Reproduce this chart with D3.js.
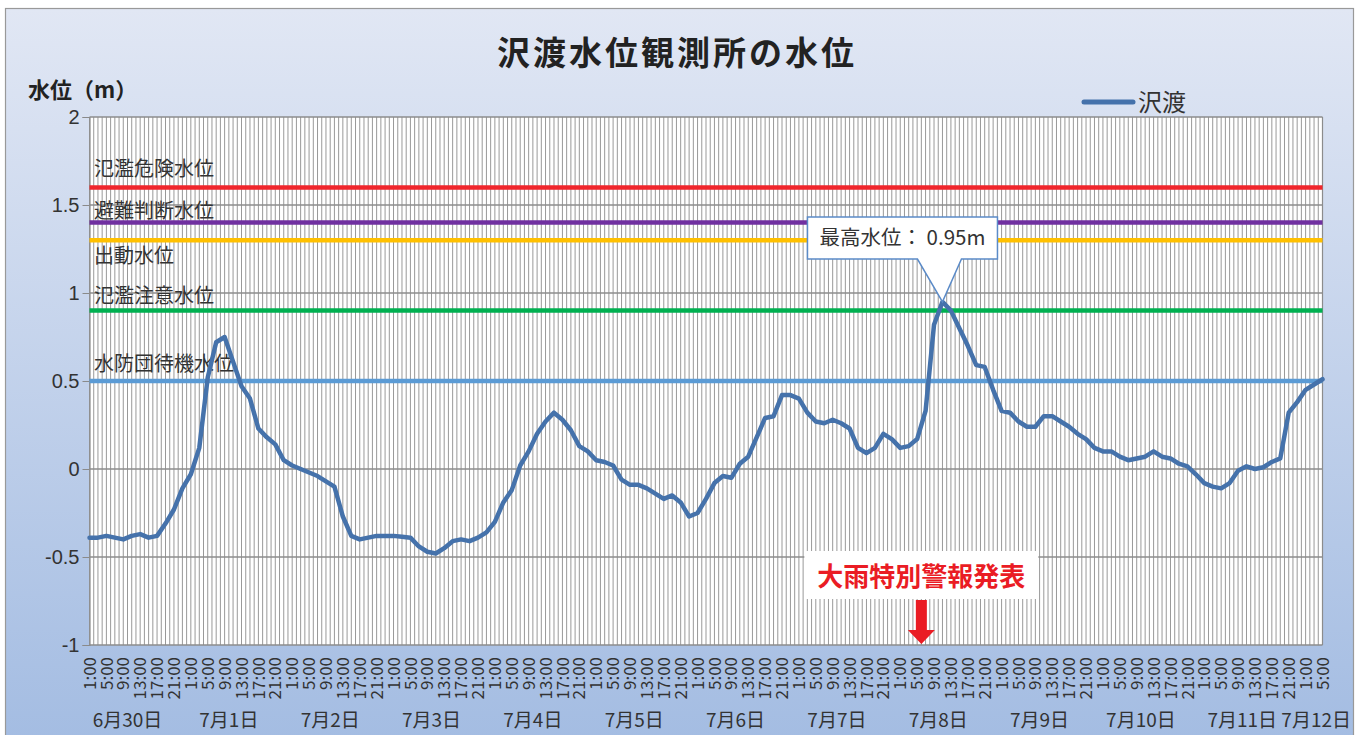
<!DOCTYPE html>
<html>
<head>
<meta charset="utf-8">
<script src="https://cdn.jsdelivr.net/npm/d3@7"></script>
<style>
  body { margin: 0; background: #fff; }
  text { font-family: "Noto Sans CJK JP", "Noto Sans", sans-serif; fill: #333; }
</style>
</head>
<body>
<svg width="1367" height="735"></svg>
<script>
// category axis: hourly, first day starts at 1:00, last day ends at 5:00
const days = ['6月30日', '7月1日', '7月2日', '7月3日', '7月4日', '7月5日', '7月6日',
              '7月7日', '7月8日', '7月9日', '7月10日', '7月11日', '7月12日'];
const firstHour = 1, lastHour = 5;
const tickHours = [1, 5, 9, 13, 17, 21];
const yTicks = [-1, -0.5, 0, 0.5, 1, 1.5, 2];

// 沢渡 water level (m), read every 2 hours from 6/30 1:00
const level = [
  -0.39, -0.39, -0.38, -0.39, -0.40, -0.38, -0.37, -0.39, -0.38, -0.31, -0.23, -0.11,
  -0.03, 0.12, 0.52, 0.72, 0.75, 0.61, 0.47, 0.40, 0.23, 0.18, 0.14, 0.05,
  0.02, 0.00, -0.02, -0.04, -0.07, -0.10, -0.27, -0.38, -0.40, -0.39, -0.38, -0.38,
  -0.38, -0.385, -0.39, -0.44, -0.47, -0.48, -0.45, -0.41, -0.40, -0.41, -0.39, -0.36,
  -0.30, -0.19, -0.12, 0.02, 0.10, 0.20, 0.27, 0.32, 0.28, 0.22, 0.13, 0.10,
  0.05, 0.04, 0.02, -0.06, -0.09, -0.09, -0.11, -0.14, -0.17, -0.15, -0.19, -0.27,
  -0.25, -0.17, -0.08, -0.04, -0.05, 0.03, 0.07, 0.18, 0.29, 0.30, 0.42, 0.42,
  0.40, 0.32, 0.27, 0.26, 0.28, 0.26, 0.23, 0.12, 0.09, 0.12, 0.20, 0.17,
  0.12, 0.13, 0.17, 0.33, 0.82, 0.95, 0.90, 0.80, 0.70, 0.59, 0.58, 0.45,
  0.33, 0.32, 0.27, 0.24, 0.24, 0.30, 0.30, 0.27, 0.24, 0.20, 0.17, 0.12,
  0.10, 0.10, 0.07, 0.05, 0.06, 0.07, 0.10, 0.07, 0.06, 0.03, 0.015, -0.03,
  -0.08, -0.10, -0.11, -0.08, -0.01, 0.015, 0.00, 0.01, 0.04, 0.06, 0.32, 0.38,
  0.45, 0.48, 0.51
];
const levelStep = 2;

// reference levels
const refNames = ['氾濫危険水位', '避難判断水位', '出動水位', '氾濫注意水位', '水防団待機水位'];
const refValues = [1.6, 1.4, 1.3, 0.9, 0.5];

// warning issued
const alertDay = '7月8日', alertHour = 6;
const alertText = '大雨特別警報発表';

// styles
const refColors = ['#f0262c', '#7030a0', '#ffc000', '#00b050', '#5b9bd5'];
const refLabelDy = [-11, -5, 23, -8, -10];
const lineColor = '#4572ab';

let svg = d3.select('svg');
let defs = svg.append('defs');
let grad = defs.append('linearGradient').attr('id', 'bg').attr('x1', 0).attr('y1', 0).attr('x2', 0).attr('y2', 1);
grad.append('stop').attr('offset', '0%').attr('stop-color', '#e1e7f4');
grad.append('stop').attr('offset', '100%').attr('stop-color', '#a3bce2');

svg.append('rect')
  .attr('x', 5.5).attr('y', 8.5).attr('width', 1348).attr('height', 740)
  .attr('fill', 'url(#bg)').attr('stroke', '#999').attr('stroke-width', 1.2);

// build hourly categories
let cats = [];
days.forEach(function(d, k) {
  let h0 = k == 0 ? firstHour : 0;
  let h1 = k == days.length - 1 ? lastHour : 23;
  for (let h = h0; h <= h1; h++) cats.push({day: d, hour: h});
});

let pLeft = 89.5, pRight = 1322.5, pTop = 117, pBottom = 645;
let x = d3.scalePoint().domain(d3.range(cats.length)).range([pLeft, pRight]);
let y = d3.scaleLinear().domain([-1, 2]).range([pBottom, pTop]);

svg.append('rect')
  .attr('x', pLeft).attr('y', pTop).attr('width', pRight - pLeft).attr('height', pBottom - pTop)
  .attr('fill', '#fff');

// hourly vertical grid
svg.append('g')
  .selectAll('line')
  .data(d3.range(cats.length))
  .enter()
  .append('line')
  .attr('x1', function(d){ return x(d); })
  .attr('x2', function(d){ return x(d); })
  .attr('y1', pTop).attr('y2', pBottom)
  .attr('stroke', '#999').attr('stroke-width', 1);

// horizontal grid + y ticks
let yAxis = svg.append('g')
  .attr('transform', 'translate(' + pLeft + ',0)')
  .call(d3.axisLeft(y).tickValues(yTicks).tickSize(7).tickFormat(function(d){ return String(d); }));
yAxis.select('.domain').attr('stroke', '#8a8a8a').attr('stroke-width', 1.2);
yAxis.selectAll('.tick line').attr('stroke', '#8a8a8a');
yAxis.selectAll('.tick text')
  .attr('x', -10)
  .attr('font-family', null).attr('font-size', 20).attr('fill', '#333')
  .style('font-family', '"Liberation Sans", Arial, sans-serif');

svg.append('g')
  .selectAll('line')
  .data(yTicks)
  .enter()
  .append('line')
  .attr('x1', pLeft).attr('x2', pRight)
  .attr('y1', function(d){ return y(d); })
  .attr('y2', function(d){ return y(d); })
  .attr('stroke', '#8c8c8c').attr('stroke-width', 1.6);

svg.append('line')
  .attr('x1', pRight).attr('x2', pRight).attr('y1', pTop).attr('y2', pBottom)
  .attr('stroke', '#8c8c8c').attr('stroke-width', 1.2);

// reference lines
svg.append('g')
  .selectAll('line')
  .data(refValues)
  .enter()
  .append('line')
  .attr('x1', pLeft).attr('x2', pRight)
  .attr('y1', function(d){ return y(d); })
  .attr('y2', function(d){ return y(d); })
  .attr('stroke', function(d, i){ return refColors[i]; })
  .attr('stroke-width', 4.5);

svg.append('g')
  .selectAll('text')
  .data(refNames)
  .enter()
  .append('text')
  .attr('x', 94)
  .attr('y', function(d, i){ return y(refValues[i]) + refLabelDy[i]; })
  .attr('font-size', 20)
  .text(function(d){ return d; });

// series
let line = d3.line()
  .x(function(d, j){ return x(j * levelStep); })
  .y(function(d){ return y(d); });

svg.append('path')
  .datum(level)
  .attr('d', line)
  .attr('fill', 'none')
  .attr('stroke', lineColor)
  .attr('stroke-width', 4.5)
  .attr('stroke-linejoin', 'round')
  .attr('stroke-linecap', 'round');

// x tick labels (rotated)
let tickIdx = d3.range(cats.length).filter(function(i){ return tickHours.indexOf(cats[i].hour) >= 0; });
svg.append('g')
  .selectAll('text')
  .data(tickIdx)
  .enter()
  .append('text')
  .attr('transform', function(i){ return 'translate(' + x(i) + ',657) rotate(-90)'; })
  .attr('dy', '0.36em')
  .attr('text-anchor', 'end')
  .attr('font-size', 17)
  .text(function(i){ return cats[i].hour + ':00'; });

// day labels
svg.append('g')
  .selectAll('text')
  .data(days)
  .enter()
  .append('text')
  .attr('x', function(d, k) {
    let idx = d3.range(cats.length).filter(function(i){ return cats[i].day == d; });
    let first = idx[0], last = idx[idx.length - 1];
    let c = first - cats[first].hour + 10;
    if (c > last) c = (first + last) / 2 + 1;
    return x(0) + c * x.step();
  })
  .attr('y', 727)
  .attr('text-anchor', 'middle')
  .attr('font-size', 19)
  .text(function(d){ return d; });

// title
svg.append('text')
  .attr('x', 677).attr('y', 65)
  .attr('text-anchor', 'middle')
  .attr('font-size', 33).attr('font-weight', 'bold')
  .attr('letter-spacing', 3)
  .style('fill', '#222')
  .text('沢渡水位観測所の水位');

svg.append('text')
  .attr('x', 28).attr('y', 98)
  .attr('font-size', 22).attr('font-weight', 'bold')
  .style('fill', '#222')
  .text('水位（m）');

// legend
svg.append('line')
  .attr('x1', 1084).attr('x2', 1133).attr('y1', 102).attr('y2', 102)
  .attr('stroke', lineColor).attr('stroke-width', 5).attr('stroke-linecap', 'round');
svg.append('text')
  .attr('x', 1138).attr('y', 111)
  .attr('font-size', 24)
  .text('沢渡');

// peak callout
let peak = d3.max(level);
let peakIdx = level.indexOf(peak) * levelStep;
let px = x(peakIdx), py = y(peak);
let bx = px - 135, by = 217, bw = 190, bh = 42;
svg.append('path')
  .attr('d', 'M' + bx + ',' + by + 'H' + (bx + bw) + 'V' + (by + bh) + 'H' + (px + 19) +
             'L' + px + ',' + py + 'L' + (px - 25) + ',' + (by + bh) + 'H' + bx + 'Z')
  .attr('fill', '#fff')
  .attr('stroke', '#5b8bc8').attr('stroke-width', 1.5);
svg.append('text')
  .attr('x', bx + bw / 2).attr('y', by + 28)
  .attr('text-anchor', 'middle')
  .attr('font-size', 20.5)
  .text('最高水位： ' + peak + 'm');

// warning arrow
let ai = d3.range(cats.length).filter(function(i){ return cats[i].day == alertDay && cats[i].hour == alertHour; })[0];
let ax = x(ai);
svg.append('rect')
  .attr('x', ax - 117).attr('y', 551).attr('width', 234).attr('height', 48)
  .attr('fill', '#fff');
svg.append('text')
  .attr('x', ax).attr('y', 586)
  .attr('text-anchor', 'middle')
  .attr('font-size', 26).attr('font-weight', 'bold')
  .style('fill', '#ea1c24')
  .text(alertText);
svg.append('path')
  .attr('d', 'M' + (ax - 5.5) + ',600H' + (ax + 5.5) + 'V630H' + (ax + 13.5) + 'L' + ax + ',' + (pBottom - 1) +
             'L' + (ax - 13.5) + ',630H' + (ax - 5.5) + 'Z')
  .attr('fill', '#ea1c24');
</script>
</body>
</html>
